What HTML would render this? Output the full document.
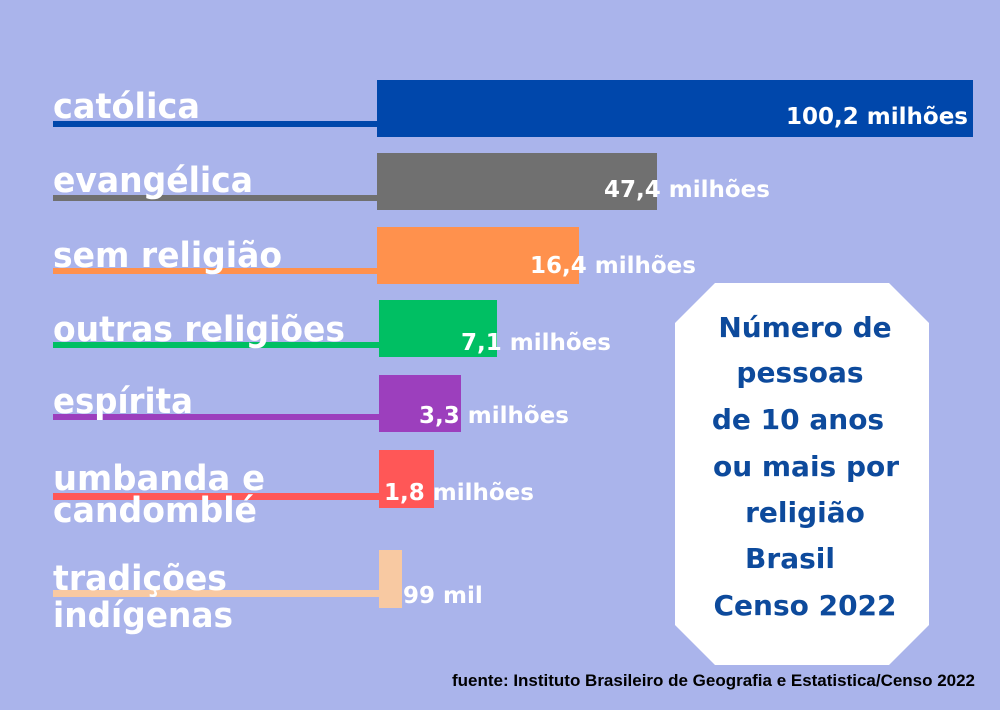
<!DOCTYPE html>
<html><head><meta charset="utf-8"><style>
html,body{margin:0;padding:0;background:#aab4eb;}
svg{display:block}
.l{font-family:"DejaVu Sans","Liberation Sans",sans-serif;font-size:35px;fill:#fff;font-weight:600}
.v{font-family:"DejaVu Sans","Liberation Sans",sans-serif;font-size:23px;fill:#fff;font-weight:bold}
.b{font-family:"DejaVu Sans","Liberation Sans",sans-serif;font-size:28px;fill:#0d4a9c;font-weight:bold;text-anchor:middle}
</style></head><body>
<svg width="1000" height="710" viewBox="0 0 1000 710">
<rect width="1000" height="710" fill="#aab4eb"/>
<rect x="377" y="80" width="596" height="57" fill="#0047ab"/>
<rect x="53" y="121" width="324" height="6" fill="#0047ab"/>
<rect x="377" y="153" width="280" height="57" fill="#707070"/>
<rect x="53" y="195" width="324" height="6" fill="#707070"/>
<rect x="377" y="227" width="202" height="57" fill="#ff914d"/>
<rect x="53" y="268" width="324" height="6" fill="#ff914d"/>
<rect x="379" y="300" width="118" height="57" fill="#00bf63"/>
<rect x="53" y="342" width="326" height="6" fill="#00bf63"/>
<rect x="379" y="375" width="82" height="57" fill="#9c3fbd"/>
<rect x="53" y="414" width="326" height="6" fill="#9c3fbd"/>
<rect x="379" y="450" width="55" height="58" fill="#ff5757"/>
<rect x="53" y="493" width="326" height="7" fill="#ff5757"/>
<rect x="379" y="550" width="23" height="58" fill="#f8c9a2"/>
<rect x="53" y="590" width="326" height="7" fill="#f8c9a2"/>
<text class="l" x="53" y="118" textLength="147" lengthAdjust="spacingAndGlyphs">católica</text>
<text class="l" x="53" y="192" textLength="200" lengthAdjust="spacingAndGlyphs">evangélica</text>
<text class="l" x="53" y="267" textLength="229" lengthAdjust="spacingAndGlyphs">sem religião</text>
<text class="l" x="53" y="341" textLength="292" lengthAdjust="spacingAndGlyphs">outras religiões</text>
<text class="l" x="53" y="413" textLength="140" lengthAdjust="spacingAndGlyphs">espírita</text>
<text class="l" x="53" y="490" textLength="212" lengthAdjust="spacingAndGlyphs">umbanda e</text>
<text class="l" x="53" y="522" textLength="204" lengthAdjust="spacingAndGlyphs">candomblé</text>
<text class="l" x="53" y="590" textLength="174" lengthAdjust="spacingAndGlyphs">tradições</text>
<text class="l" x="53" y="627" textLength="180" lengthAdjust="spacingAndGlyphs">indígenas</text>
<text class="v" x="968" y="124" text-anchor="end">100,2 milhões</text>
<text class="v" x="604" y="197">47,4 milhões</text>
<text class="v" x="530" y="273">16,4 milhões</text>
<text class="v" x="461" y="350">7,1 milhões</text>
<text class="v" x="419" y="423">3,3 milhões</text>
<text class="v" x="384" y="500">1,8 milhões</text>
<text class="v" x="403" y="603">99 mil</text>
<polygon points="715,283 889,283 929,323 929,625 889,665 715,665 675,625 675,323" fill="#fff"/>
<text class="b" x="805" y="337">Número de</text>
<text class="b" x="800" y="382">pessoas</text>
<text class="b" x="798" y="429">de 10 anos</text>
<text class="b" x="806" y="476">ou mais por</text>
<text class="b" x="805" y="522">religião</text>
<text class="b" x="790" y="568">Brasil</text>
<text class="b" x="805" y="615">Censo 2022</text>
<text x="975" y="686" text-anchor="end" font-family="Liberation Sans,sans-serif" font-size="16.5" font-weight="bold" fill="#000" textLength="523" lengthAdjust="spacingAndGlyphs">fuente: Instituto Brasileiro de Geografia e Estatistica/Censo 2022</text>
</svg>
</body></html>
